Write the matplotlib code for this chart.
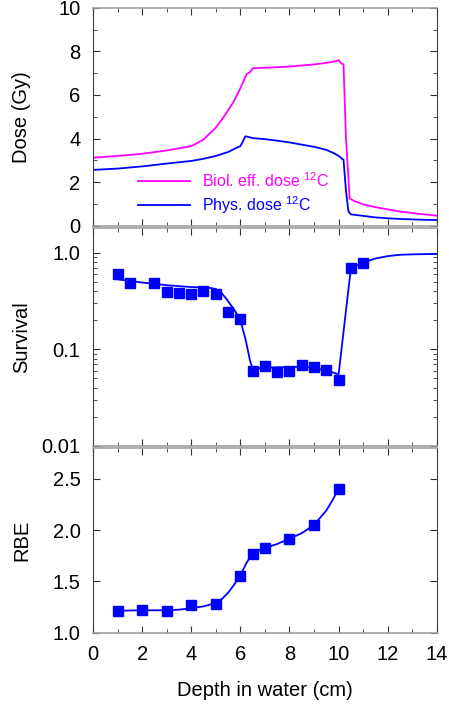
import numpy as np
from matplotlib import pyplot as plt
from matplotlib.ticker import MultipleLocator, LogLocator, NullFormatter, FixedLocator, FixedFormatter

plt.rcParams['font.family'] = ['Liberation Sans', 'DejaVu Sans']
plt.rcParams['mathtext.fontset'] = 'custom'
plt.rcParams['mathtext.rm'] = 'Liberation Sans'
plt.rcParams['mathtext.default'] = 'regular'

# Dose profiles (depth in cm, dose in Gy)
bio_x = [0, 1, 2, 3, 3.5, 4, 4.5, 5, 5.3, 5.7, 6.0, 6.25, 6.4, 6.5, 7, 7.5, 8, 8.5, 9, 9.5,
         9.9, 10.0, 10.1, 10.2, 10.3, 10.45, 10.6, 11, 11.5, 12, 12.5, 13, 13.5, 14]
bio_y = [3.12, 3.2, 3.3, 3.45, 3.55, 3.65, 3.95, 4.5, 4.95, 5.64, 6.3, 6.95, 7.05, 7.22, 7.25, 7.27, 7.3, 7.35,
         7.4, 7.47, 7.55, 7.6, 7.45, 7.4, 4.0, 1.25, 1.15, 0.98, 0.85, 0.75, 0.65, 0.58, 0.52, 0.46]

phys_x = [0, 1, 2, 3, 4, 4.5, 5, 5.5, 5.8, 6.0, 6.1, 6.2, 6.3, 6.5, 7, 7.5, 8, 8.5, 9, 9.5,
          9.8, 10.0, 10.2, 10.3, 10.4, 10.5, 11, 11.5, 12, 12.5, 13, 13.5, 14]
phys_y = [2.56, 2.62, 2.72, 2.85, 2.97, 3.07, 3.2, 3.38, 3.55, 3.65, 3.85, 4.1, 4.08, 4.02, 3.97, 3.9, 3.82, 3.72,
          3.62, 3.48, 3.33, 3.2, 3.02, 1.6, 0.65, 0.52, 0.45, 0.38, 0.34, 0.31, 0.29, 0.27, 0.26]

# Survival: measured points and model curve
surv_x = [1.0, 1.5, 2.5, 3.0, 3.5, 4.0, 4.5, 5.0, 5.5, 6.0, 6.5, 7.0, 7.5, 8.0, 8.5, 9.0, 9.5, 10.0, 10.5, 11.0]
surv_y = [0.60, 0.49, 0.49, 0.395, 0.385, 0.37, 0.40, 0.375, 0.243, 0.204, 0.059, 0.067, 0.058, 0.059,
          0.068, 0.066, 0.061, 0.048, 0.69, 0.78]
surv_fit_x = [1.0, 1.5, 2.0, 2.5, 3.0, 3.5, 4.0, 4.5, 4.8, 5.0, 5.2, 5.4, 5.6, 5.8, 6.0, 6.2, 6.4, 6.5,
              7.0, 7.5, 8.0, 8.5, 9.0, 9.5, 10.0, 10.5, 11.0, 11.5, 12.0, 12.5, 13.0, 14.0]
surv_fit_y = [0.53, 0.51, 0.49, 0.475, 0.46, 0.45, 0.44, 0.435, 0.43, 0.42, 0.39, 0.34, 0.29, 0.245, 0.2, 0.13,
              0.075, 0.063, 0.064, 0.065, 0.065, 0.066, 0.064, 0.06, 0.055, 0.69, 0.79, 0.87, 0.92, 0.95, 0.96, 0.97]

# RBE: measured points and smooth curve
rbe_x = [1, 2, 3, 4, 5, 6, 6.5, 7, 8, 9, 10]
rbe_y = [1.213, 1.226, 1.213, 1.268, 1.277, 1.555, 1.771, 1.823, 1.913, 2.052, 2.403]
rbe_fit_x = [1, 2, 3, 3.5, 4, 4.5, 5, 5.25, 5.5, 5.75, 6, 6.25, 6.5, 7, 7.5, 8, 8.5, 9, 9.5, 9.75, 10]
rbe_fit_y = [1.215, 1.22, 1.22, 1.226, 1.24, 1.258, 1.29, 1.33, 1.39, 1.47, 1.56, 1.68, 1.775, 1.825, 1.865,
             1.915, 1.97, 2.05, 2.19, 2.29, 2.4]

blue = '#0000ff'
magenta = '#ff00ff'

fig, (ax1, ax2, ax3) = plt.subplots(3, 1, sharex=True, figsize=(4.49, 7.04), dpi=100,
                                    gridspec_kw={'height_ratios': [219, 219, 186]})
fig.subplots_adjust(left=0.207, right=0.973, top=0.989, bottom=0.101, hspace=0.01)

ax1.plot(bio_x, bio_y, color=magenta, lw=1.3, label='Biol. eff. dose $^{12}$C')
ax1.plot(phys_x, phys_y, color=blue, lw=1.3, label='Phys. dose $^{12}$C')
ax1.set_ylim(0, 10)
ax1.yaxis.set_major_locator(MultipleLocator(2))
ax1.yaxis.set_minor_locator(MultipleLocator(1))
ax1.set_ylabel('Dose (Gy)', fontsize=14.5)
leg = ax1.legend(loc='center left', bbox_to_anchor=(0.13, 0.148), frameon=False, fontsize=11.5,
                 handlelength=3.3, handletextpad=0.75, labelspacing=0.3, borderpad=0, borderaxespad=0)
for t, c in zip(leg.get_texts(), [magenta, blue]):
    t.set_color(c)

ax2.plot(surv_fit_x, surv_fit_y, color=blue, lw=1.3)
ax2.plot(surv_x, surv_y, 's', color=blue, ms=6.5)
ax2.set_yscale('log')
ax2.set_ylim(0.01, 1.81)
ax2.yaxis.set_major_locator(FixedLocator([0.01, 0.1, 1.0]))
ax2.yaxis.set_major_formatter(FixedFormatter(['0.01', '0.1', '1.0']))
ax2.yaxis.set_minor_locator(LogLocator(base=10, subs=np.arange(2, 10)))
ax2.yaxis.set_minor_formatter(NullFormatter())
ax2.set_ylabel('Survival', fontsize=14.5)

ax3.plot(rbe_fit_x, rbe_fit_y, color=blue, lw=1.3)
ax3.plot(rbe_x, rbe_y, 's', color=blue, ms=6.5)
ax3.set_ylim(1.0, 2.8)
ax3.yaxis.set_major_locator(MultipleLocator(0.5))
ax3.yaxis.set_major_formatter(plt.FormatStrFormatter('%.1f'))
ax3.set_ylabel('RBE', fontsize=14.5)
ax3.set_xlim(0, 14)
ax3.xaxis.set_major_locator(MultipleLocator(2))
ax3.xaxis.set_minor_locator(MultipleLocator(1))
ax3.set_xlabel('Depth in water (cm)', fontsize=14.5, labelpad=12)

for ax in (ax1, ax2, ax3):
    ax.tick_params(which='both', direction='in', top=True, right=True, labelsize=14.5, color='#333333')
    ax.tick_params(which='major', length=5, pad=9)
    ax.tick_params(which='minor', length=3)
    for s in ('left', 'right'):
        ax.spines[s].set_color('#404040')
    for s in ('top', 'bottom'):
        ax.spines[s].set_color('#a0a0a0')
        ax.spines[s].set_linewidth(1.2)
    ax.yaxis.set_label_coords(-0.18, 0.5)

fig.savefig('out.png', dpi=100)
